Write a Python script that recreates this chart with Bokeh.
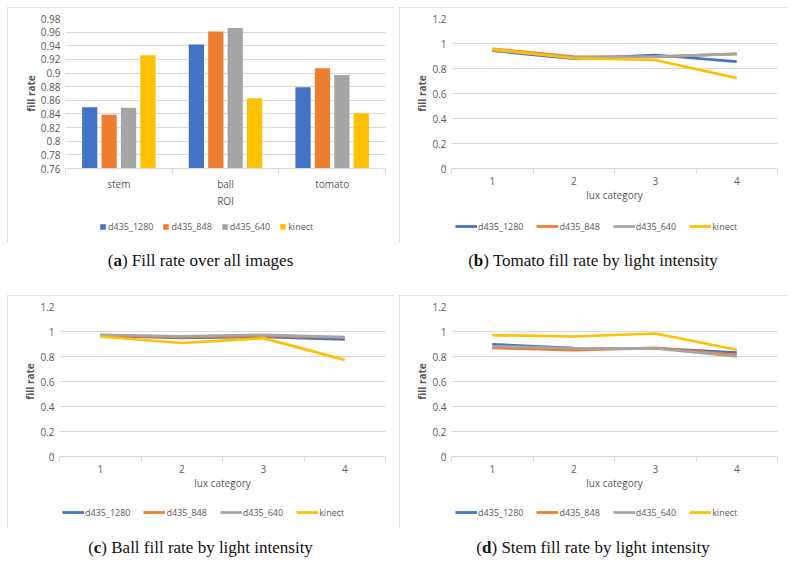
from bokeh.plotting import figure
from bokeh.models import (Range1d, FixedTicker, CustomJSTickFormatter,
                          Legend, LegendItem, Div, Row, Column)
from bokeh.embed import file_html
from bokeh.resources import INLINE

# ---------------- data ----------------
series = ["d435_1280", "d435_848", "d435_640", "kinect"]
colors = ["#4472C4", "#ED7D31", "#A5A5A5", "#FFC000"]

rois = ["stem", "ball", "tomato"]
overall_d435_1280 = [0.850, 0.942, 0.879]
overall_d435_848 = [0.839, 0.961, 0.907]
overall_d435_640 = [0.849, 0.966, 0.897]
overall_kinect = [0.926, 0.863, 0.841]
bar_y_ticks = [0.76, 0.78, 0.80, 0.82, 0.84, 0.86, 0.88, 0.90, 0.92, 0.94, 0.96, 0.98]

lux_categories = ["1", "2", "3", "4"]
line_y_ticks = [0, 0.2, 0.4, 0.6, 0.8, 1.0, 1.2]

tomato_d435_1280 = [0.942, 0.879, 0.908, 0.855]
tomato_d435_848 = [0.958, 0.895, 0.893, 0.917]
tomato_d435_640 = [0.945, 0.890, 0.895, 0.917]
tomato_kinect = [0.955, 0.882, 0.868, 0.723]

ball_d435_1280 = [0.966, 0.949, 0.957, 0.937]
ball_d435_848 = [0.968, 0.955, 0.965, 0.952]
ball_d435_640 = [0.973, 0.962, 0.973, 0.955]
ball_kinect = [0.960, 0.908, 0.947, 0.773]

stem_d435_1280 = [0.897, 0.868, 0.866, 0.832]
stem_d435_848 = [0.868, 0.851, 0.869, 0.814]
stem_d435_640 = [0.882, 0.866, 0.865, 0.800]
stem_kinect = [0.970, 0.960, 0.984, 0.854]

captions = [("a", "Fill rate over all images"),
            ("b", "Tomato fill rate by light intensity"),
            ("c", "Ball fill rate by light intensity"),
            ("d", "Stem fill rate by light intensity")]

# ---------------- style ----------------
FONT = "Open Sans"
TXT = "#595959"
GRID = "#d9d9d9"
fmt = CustomJSTickFormatter(code="return String(Math.round(tick*100)/100);")


def chart_fig(width, height, left, right, top, bottom, labels, y_ticks, xlabel):
    n_cat = len(labels)
    p = figure(width=width, height=height, x_range=Range1d(0.5, n_cat + 0.5),
               y_range=Range1d(y_ticks[0], y_ticks[-1]), output_backend="svg",
               toolbar_location=None,
               min_border_left=left, min_border_right=right,
               min_border_top=top, min_border_bottom=bottom)
    p.outline_line_color = None
    p.xgrid.grid_line_color = None
    p.ygrid.grid_line_color = GRID
    p.ygrid.grid_line_width = 1
    p.yaxis.ticker = FixedTicker(ticks=y_ticks)
    p.yaxis.formatter = fmt
    p.yaxis.axis_line_color = None
    p.yaxis.major_tick_line_color = None
    p.yaxis.minor_tick_line_color = None
    p.yaxis.major_tick_out = 0
    p.yaxis.major_label_text_font = FONT
    p.yaxis.major_label_text_font_size = "10px"
    p.yaxis.major_label_text_color = TXT
    p.yaxis.major_label_standoff = 5
    p.yaxis.axis_label = "fill rate"
    p.yaxis.axis_label_text_font = FONT
    p.yaxis.axis_label_text_font_size = "10px"
    p.yaxis.axis_label_text_font_style = "bold"
    p.yaxis.axis_label_text_color = TXT
    p.yaxis.axis_label_standoff = 0
    centers = [i + 1 for i in range(n_cat)]
    p.xaxis.ticker = FixedTicker(ticks=centers,
                                 minor_ticks=[c - 0.5 for c in centers] + [n_cat + 0.5])
    p.xaxis.major_label_overrides = {c: lab for c, lab in zip(centers, labels)}
    p.xaxis.axis_line_color = GRID
    p.xaxis.major_tick_line_color = None
    p.xaxis.major_tick_out = 0
    p.xaxis.major_tick_in = 0
    p.xaxis.minor_tick_line_color = GRID
    p.xaxis.minor_tick_out = 5
    p.xaxis.minor_tick_in = 0
    p.xaxis.major_label_text_font = FONT
    p.xaxis.major_label_text_font_size = "10px"
    p.xaxis.major_label_text_color = TXT
    p.xaxis.major_label_standoff = 3
    p.xaxis.axis_label = xlabel
    p.xaxis.axis_label_text_font = FONT
    p.xaxis.axis_label_text_font_size = "10px"
    p.xaxis.axis_label_text_font_style = "normal"
    p.xaxis.axis_label_text_color = TXT
    p.xaxis.axis_label_standoff = 0
    return p


def legend_fig(width, lx, kind, glyph_w, glyph_h, standoff, spacing):
    lf = figure(width=width, height=28, x_range=Range1d(0, 1), y_range=Range1d(0, 1),
                output_backend="svg", toolbar_location=None,
                x_axis_location=None, y_axis_location=None,
                min_border_left=0, min_border_right=0,
                min_border_top=0, min_border_bottom=4)
    lf.outline_line_color = None
    lf.xgrid.visible = False
    lf.ygrid.visible = False
    its = []
    # placeholder renderers kept outside the visible range: they only carry the legend styling
    off = lf.x_range.start - 10
    for name, col in zip(series, colors):
        if kind == "bar":
            r = lf.vbar(x=[off], top=[off], bottom=off - 1, width=0.1,
                        fill_color=col, line_color=None)
        else:
            r = lf.line(x=[off], y=[off], line_color=col, line_width=2.75)
        its.append(LegendItem(label=name, renderers=[r]))
    lg = Legend(items=its, location=(lx, 2), orientation="horizontal")
    lg.label_text_font = FONT
    lg.label_text_font_size = "9px"
    lg.label_text_color = TXT
    lg.label_height = 20
    lg.glyph_width = glyph_w
    lg.glyph_height = glyph_h
    lg.label_standoff = standoff
    lg.spacing = spacing
    lg.padding = 0
    lg.margin = 0
    lg.border_line_color = None
    lg.background_fill_alpha = 0
    lf.add_layout(lg, "center")
    return lf


def boxed(chart, leg):
    return Column(children=[chart, leg], spacing=0,
                  styles={"outline": "1px solid #d9d9d9", "outline-offset": "-1px"})


# ---------------- (a) bar chart ----------------
pa = chart_fig(387, 207, 58, 9, 11, 46, rois, bar_y_ticks, "ROI")
overall = [overall_d435_1280, overall_d435_848, overall_d435_640, overall_kinect]
bar_step = 0.182
bar_w = 0.143
for j, (vals, col) in enumerate(zip(overall, colors)):
    xs = [i + 1 + (j - 1.5) * bar_step for i in range(len(rois))]
    pa.vbar(x=xs, top=vals, bottom=pa.y_range.start, width=bar_w,
            fill_color=col, line_color=None)
panel_a = boxed(pa, legend_fig(387, 34, "bar", 7, 7, 2, 9))


# ---------------- line charts ----------------
def line_chart(width, height, right, bottom, data):
    p = chart_fig(width, height, 52, right, 11, bottom,
                  lux_categories, line_y_ticks, "lux category")
    xs = [i + 1 for i in range(len(lux_categories))]
    for vals, col in zip(data, colors):
        p.line(x=xs, y=vals, line_color=col, line_width=2.75, line_join="round")
    return p


pb = line_chart(388, 207, 10, 46,
                [tomato_d435_1280, tomato_d435_848, tomato_d435_640, tomato_kinect])
pc = line_chart(387, 205, 9, 44,
                [ball_d435_1280, ball_d435_848, ball_d435_640, ball_kinect])
pd = line_chart(388, 205, 10, 44,
                [stem_d435_1280, stem_d435_848, stem_d435_640, stem_kinect])
panel_b = boxed(pb, legend_fig(388, 4, "line", 22, 10, 1, 13))
panel_c = boxed(pc, legend_fig(387, 3, "line", 22, 10, 1, 13))
panel_d = boxed(pd, legend_fig(388, 4, "line", 22, 10, 1, 13))


def cap(letter, text, width, height, pad):
    html = ("<div style=\"width:%dpx;text-align:center;font-family:'Liberation Serif';"
            "font-size:17px;color:#111;padding-top:%dpx;\">(<b>%s</b>) %s</div>"
            % (width, pad, letter, text))
    return Div(text=html, width=width, height=height, margin=0)


row1 = Row(children=[panel_a, panel_b], spacing=5)
caps1 = Row(children=[cap(*captions[0], 387, 53, 7), cap(*captions[1], 388, 53, 7)], spacing=5)
row2 = Row(children=[panel_c, panel_d], spacing=5)
caps2 = Row(children=[cap(*captions[2], 387, 34, 8), cap(*captions[3], 388, 34, 8)], spacing=5)
layout = Column(children=[row1, caps1, row2, caps2], spacing=0, margin=(7, 0, 0, 7))

open("out.html", "w").write(file_html(layout, INLINE))
